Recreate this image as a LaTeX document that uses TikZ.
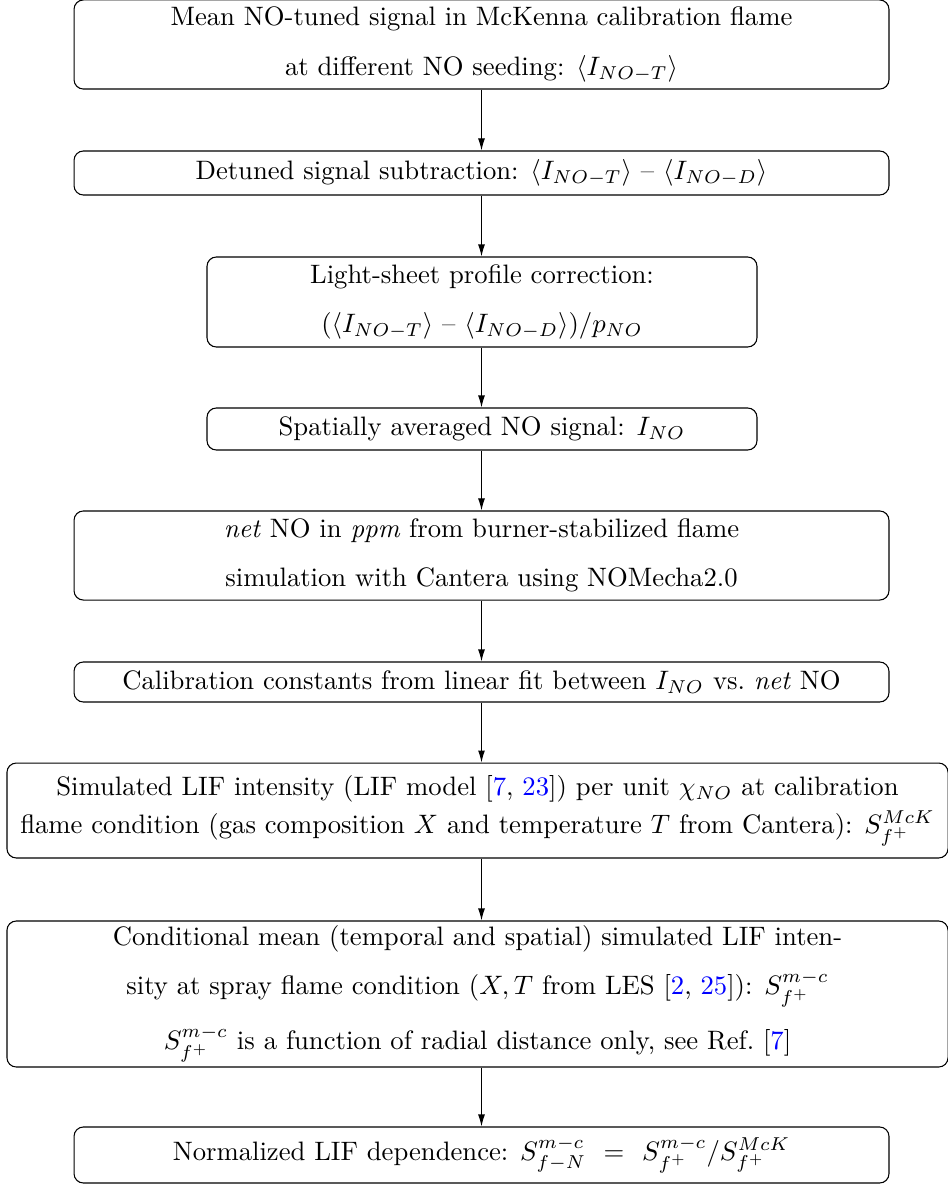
\documentclass[tikz,border=0pt]{standalone}
\usepackage{tikz}
\usetikzlibrary{arrows.meta}
\newcommand{\rf}[1]{\textcolor{blue}{#1}}

\begin{document}
\begin{tikzpicture}[
  stepbox/.style={draw,rounded corners=3.5pt,align=center,inner sep=0pt,line width=0.4pt},
  wide/.style={stepbox,minimum width=305.6pt},
  narrow/.style={stepbox,minimum width=206.25pt},
  full/.style={stepbox,minimum width=352.9pt},
  edge/.style={-{Latex[length=4.5pt,width=2.6pt]},line width=0.4pt},
  every node/.style={font=\fontsize{10}{12}\selectfont},
  x=0.375pt,y=-0.375pt
]
  \useasboundingbox (0,0) rectangle (948,1184);
  \node[wide,minimum height=33.4pt] (b1) at (481.5,44.5)
    {Mean NO-tuned signal in McKenna calibration flame\\[6.5pt]
     at different NO seeding: $\langle I_{NO-T}\rangle$};
  \node[wide,minimum height=16.5pt] (b2) at (481.5,173)
    {Detuned signal subtraction: $\langle I_{NO-T}\rangle$ -- $\langle I_{NO-D}\rangle$};
  \node[narrow,minimum height=33.75pt] (b3) at (482,302)
    {Light-sheet profile correction:\\[6.5pt]
     $(\langle I_{NO-T}\rangle$ -- $\langle I_{NO-D}\rangle)/p_{NO}$};
  \node[narrow,minimum height=15.75pt] (b4) at (482,429)
    {Spatially averaged NO signal: $I_{NO}$};
  \node[wide,minimum height=33.4pt] (b5) at (481.5,555.5)
    {\textit{net} NO in \textit{ppm} from burner-stabilized flame\\[6.5pt]
     simulation with Cantera using NOMecha2.0};
  \node[wide,minimum height=15pt] (b6) at (481.5,682)
    {Calibration constants from linear fit between $I_{NO}$ vs.\ \textit{net} NO};
  \node[full,minimum height=35.6pt] (b7) at (477.5,810.5)
    {Simulated LIF intensity (LIF model [\rf{7}, \rf{23}]) per unit $\chi_{NO}$ at calibration\\[2.3pt]
     flame condition (gas composition $X$ and temperature $T$ from Cantera): $S_{f^+}^{McK}$};
  \node[full,minimum height=54.75pt] (b8) at (477.5,994)
    {Conditional mean (temporal and spatial) simulated LIF inten-\\[6.2pt]
     sity at spray flame condition $(X,T$ from LES [\rf{2}, \rf{25}]): $S_{f^+}^{m-c}$\\[6.2pt]
     $S_{f^+}^{m-c}$ is a function of radial distance only, see Ref.\ [\rf{7}]};
  \node[wide,minimum height=21pt] (b9) at (481.5,1155)
    {Normalized LIF dependence: $S_{f-N}^{m-c}$ ~=~ $S_{f^+}^{m-c}/S_{f^+}^{McK}$};
  \foreach \a/\b in {b1/b2,b2/b3,b3/b4,b4/b5,b5/b6,b6/b7,b7/b8,b8/b9}
    \draw[edge] (\a.south -| b1) -- (\b.north -| b1);
\end{tikzpicture}
\end{document}
